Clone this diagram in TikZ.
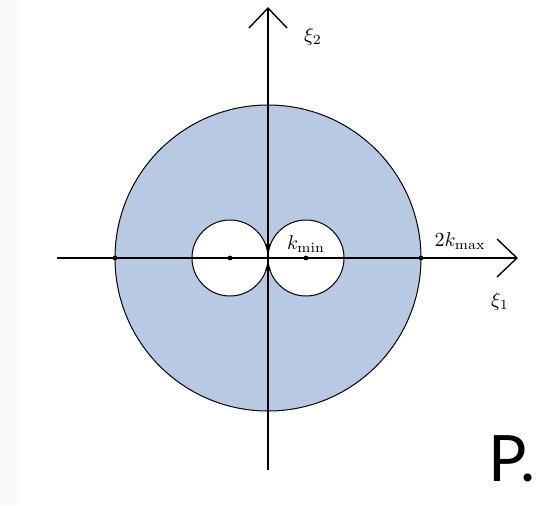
\documentclass[tikz,border=0pt]{standalone}
\usepackage{fontspec}
\newfontfamily\bigsans{Lato}
\usetikzlibrary{arrows.meta}
\definecolor{diskblue}{RGB}{184,201,228}
\definecolor{stripgray}{RGB}{248,248,249}
\begin{document}
\begin{tikzpicture}[x=0.5pt,y=-0.5pt,
  axis/.style={line width=0.7pt,-{Straight Barb[length=10pt,width=19pt,line width=0.7pt]}},
  rim/.style={line width=0.5pt},
  dotmark/.style={circle,fill=black,inner sep=0pt,minimum size=2.4pt},
  lbl/.style={inner sep=0pt,font=\normalsize}]
\useasboundingbox (0,0) rectangle (537,505);
\fill[stripgray] (0,0) rectangle (17,505);
% key points
\coordinate (O) at (268,258);
\coordinate (CL) at (230,258);
\coordinate (CR) at (306,258);
\coordinate (xl) at (57,258);
\coordinate (xr) at (518,258);
\coordinate (yb) at (268,470);
\coordinate (yt) at (268,7);
% disk with two holes
\fill[diskblue,even odd rule] (O) circle[radius=153] (CL) circle[radius=38] (CR) circle[radius=38];
\draw[rim] (O) circle[radius=153];
\draw[rim] (CL) circle[radius=38];
\draw[rim] (CR) circle[radius=38];
% axes
\draw[axis] (xl) -- (xr);
\draw[axis] (yb) -- (yt);
% dots
\node[dotmark] (d1) at (115,258) {};
\node[dotmark] (d2) at (421,258) {};
\node[dotmark] (d3) at (CL) {};
\node[dotmark] (d4) at (CR) {};
\node[dotmark] (d5) at (268,246) {};
\node[dotmark] (d6) at (268,269) {};
% labels
\node[lbl] (xi2) at (313,36) {$\xi_2$};
\node[lbl] (xi1) at (500,301) {$\xi_1$};
\node[lbl] (kmin) at (306,244) {$k_{\min}$};
\node[lbl] (kmax) at (460,241) {$2k_{\max}$};
\node[inner sep=0pt,anchor=base west,font=\bigsans\fontsize{32}{34}\selectfont] (P) at (488,481) {P.};
\end{tikzpicture}
\end{document}
